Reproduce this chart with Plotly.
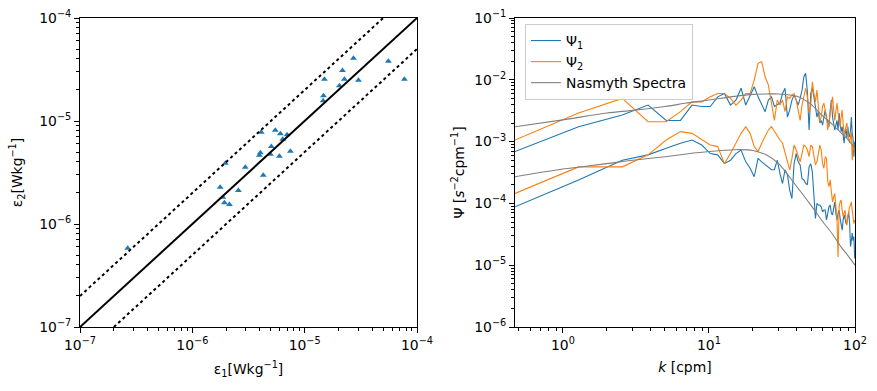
import plotly.graph_objects as go

# ---------------- left panel data ----------------
eps1 = [2.66e-7, 1.77e-6, 1.87e-6, 1.93e-6, 2.14e-6, 1.97e-6, 2.57e-6, 2.96e-6, 4.11e-6, 3.95e-6,
        4.03e-6, 4.28e-6, 4.95e-6, 5.05e-6, 5.48e-6, 6.08e-6, 5.96e-6, 6.38e-6, 6.97e-6, 7.46e-6,
        1.46e-5, 1.47e-5, 1.50e-5, 2.04e-5, 2.17e-5, 2.26e-5, 2.72e-5, 3.01e-5, 5.56e-5, 7.72e-5]
eps2 = [5.8e-7, 2.27e-6, 1.82e-6, 1.61e-6, 1.55e-6, 3.88e-6, 2.12e-6, 3.55e-6, 7.76e-6, 4.65e-6,
        4.92e-6, 2.97e-6, 4.75e-6, 5.64e-6, 8.13e-6, 7.53e-6, 4.54e-6, 6.64e-6, 7.36e-6, 5.08e-6,
        1.57e-5, 1.76e-5, 2.54e-5, 2.20e-5, 3.10e-5, 2.54e-5, 4.07e-5, 2.48e-5, 3.80e-5, 2.54e-5]

one_x = [1e-7, 1e-4]
one_y = [1e-7, 1e-4]
up_x = [1e-7, 5e-5]
up_y = [2e-7, 1e-4]
lo_x = [2e-7, 1e-4]
lo_y = [1e-7, 5e-5]

# ---------------- right panel data ----------------
k = [0.47, 1.28, 2.55, 3.83, 5.10, 6.38, 7.66, 8.93, 10.21, 11.48, 12.76, 14.04, 15.31, 16.59, 17.86,
     19.14, 20.42, 21.69, 22.97, 24.24, 25.52, 26.80, 28.07, 29.35, 30.62, 31.90, 33.18, 34.45,
     35.73, 37.00, 38.28, 39.56, 40.83, 42.11, 43.38, 44.66, 45.94, 47.21, 48.49, 49.76, 51.04,
     52.32, 53.59, 54.87, 56.14, 57.42, 58.70, 59.97, 61.25, 62.52, 63.80, 65.08, 66.35, 67.63,
     68.90, 70.18, 71.46, 72.73, 74.01, 75.28, 76.56, 77.84, 79.11, 80.39, 81.66, 82.94, 84.22,
     85.49, 86.77, 88.04, 89.32, 90.60, 91.87, 93.15, 94.42, 95.70, 96.98, 98.25, 99.53]

psi1_a = [6.9e-4, 1.74e-3, 2.7e-3, 3.9e-3, 2.2e-3, 2.2e-3, 3.9e-3, 3.7e-3, 3.7e-3, 5.3e-3,
          6.0e-3, 3.9e-3, 4.7e-3, 7.3e-3, 3.9e-3, 5.7e-3, 7.7e-3, 5.3e-3, 3.9e-3, 3.05e-3,
          4.7e-3, 5.3e-3, 3.7e-3, 3.9e-3, 4.2e-3, 6.0e-3, 7.3e-3, 2.5e-3, 3.25e-3, 4.7e-3,
          5.7e-3, 4.7e-3, 3.9e-3, 5.0e-3, 6.8e-3, 1.12e-2, 1.27e-2, 6.4e-3, 1.54e-3, 6.0e-3,
          7.3e-3, 5.3e-3, 3.7e-3, 2.5e-3, 3.05e-3, 2.0e-3, 2.2e-3, 1.85e-3, 2.5e-3, 3.25e-3,
          2.4e-3, 2.0e-3, 1.74e-3, 3.25e-3, 4.7e-3, 2.5e-3, 2.0e-3, 1.54e-3, 1.85e-3, 2.2e-3,
          1.54e-3, 2.9e-3, 2.0e-3, 1.45e-3, 1.74e-3, 1.2e-3, 9.4e-4, 1.36e-3, 1.63e-3, 1.13e-3,
          1.74e-3, 1.28e-3, 1.2e-3, 1.54e-3, 2.5e-3, 1.36e-3, 1.13e-3, 5.7e-4, 1.0e-3]
psi2_a = [1.06e-3, 2.9e-3, 5.0e-3, 2.1e-3, 2.1e-3, 3.05e-3, 4.4e-3, 4.4e-3, 5.3e-3, 6.0e-3,
          6.0e-3, 5.0e-3, 3.9e-3, 4.7e-3, 6.0e-3, 6.0e-3, 9.9e-3, 1.85e-2, 1.96e-2, 1.12e-2,
          8.2e-3, 4.4e-3, 2.2e-3, 4.7e-3, 3.9e-3, 4.7e-3, 3.05e-3, 5.3e-3, 5.0e-3, 5.7e-3,
          6.0e-3, 4.7e-3, 3.25e-3, 2.2e-3, 3.9e-3, 5.7e-3, 7.3e-3, 5.3e-3, 2.9e-3, 3.7e-3,
          9.3e-3, 6.0e-3, 4.4e-3, 6.8e-3, 3.25e-3, 2.1e-3, 2.5e-3, 3.7e-3, 4.2e-3, 3.25e-3,
          2.5e-3, 1.54e-3, 2.2e-3, 3.25e-3, 4.4e-3, 5.3e-3, 3.25e-3, 2.2e-3, 3.05e-3, 4.2e-3,
          2.9e-3, 2.0e-3, 1.74e-3, 2.5e-3, 3.25e-3, 2.0e-3, 1.2e-3, 1.54e-3, 1.85e-3, 2.0e-3,
          1.36e-3, 1.06e-3, 9.4e-4, 1.2e-3, 1.45e-3, 5.0e-4, 9.4e-4, 7.3e-4, 8.3e-4]
psi1_b = [8.8e-5, 2.4e-4, 5.0e-4, 6.1e-4, 7.8e-4, 9.4e-4, 1.06e-3, 8.8e-4, 6.4e-4, 6.1e-4,
          4.4e-4, 5.0e-4, 6.4e-4, 7.3e-4, 4.7e-4, 3.7e-4, 2.7e-4, 5.35e-4, 4.7e-4, 4.2e-4,
          3.9e-4, 3.5e-4, 3.5e-4, 5.0e-4, 3.05e-4, 2.1e-4, 3.5e-4, 2.9e-4, 1.64e-4, 1.2e-4,
          4.4e-4, 6.4e-4, 4.7e-4, 4.2e-4, 2.5e-4, 2.4e-4, 2.1e-4, 2.0e-4, 3.9e-4, 4.4e-4,
          3.25e-4, 1.28e-4, 5.7e-5, 1.0e-4, 9.4e-5, 9.4e-5, 8.8e-5, 7.3e-5, 7.8e-5, 7.8e-5,
          5.4e-5, 6.9e-5, 8.8e-5, 9.4e-5, 6.9e-5, 6.5e-5, 8.8e-5, 1.06e-4, 6.9e-5, 5.4e-5,
          6.9e-5, 7.8e-5, 5.7e-5, 4.2e-5, 3.7e-5, 5.4e-5, 6.5e-5, 5.7e-5, 4.7e-5, 5.0e-5,
          6.1e-5, 7.3e-5, 4.7e-5, 2.0e-5, 2.5e-5, 3.3e-5, 2.5e-5, 2.9e-5, 1.28e-5]
psi2_b = [1.45e-4, 3.9e-4, 3.9e-4, 6.1e-4, 1.06e-3, 1.45e-3, 1.36e-3, 1.06e-3, 8.8e-4, 8.3e-4,
          4.4e-4, 6.4e-4, 9.4e-4, 1.36e-3, 1.74e-3, 1.36e-3, 8.3e-4, 6.9e-4, 9.4e-4, 1.2e-3,
          1.54e-3, 1.74e-3, 1.45e-3, 1.2e-3, 1.06e-3, 9.4e-4, 6.9e-4, 4.7e-4, 3.5e-4, 5.35e-4,
          8.8e-4, 7.3e-4, 5.7e-4, 4.7e-4, 6.4e-4, 8.8e-4, 8.3e-4, 7.3e-4, 5.7e-4, 8.8e-4,
          8.3e-4, 5.7e-4, 4.2e-4, 4.7e-4, 6.1e-4, 8.8e-4, 7.3e-4, 4.4e-4, 3.7e-4, 5.7e-4,
          5.35e-4, 2.25e-4, 1.86e-4, 2.4e-4, 1.54e-4, 1.06e-4, 1.28e-4, 1.45e-4, 8.8e-5, 5.7e-5,
          1.36e-5, 8.8e-5, 1.06e-4, 1.13e-4, 7.8e-5, 6.1e-5, 6.9e-5, 7.8e-5, 5.4e-5, 4.4e-5,
          6.1e-5, 8.3e-5, 8.8e-5, 9.4e-5, 1.06e-4, 7.8e-5, 5.7e-5, 4.7e-5, 5.4e-5]

k_nas = [0.47, 1, 2, 3, 5, 7, 10, 15, 20, 25, 30, 40, 50, 60, 70, 80, 90, 100]
nas_a = [1.74e-3, 2.25e-3, 2.9e-3, 3.2e-3, 3.7e-3, 4.2e-3, 4.7e-3, 5.4e-3, 5.8e-3, 5.9e-3,
         5.9e-3, 5.4e-3, 4.0e-3, 2.6e-3, 1.9e-3, 1.4e-3, 1.06e-3, 7.8e-4]
nas_b = [2.7e-4, 3.6e-4, 4.4e-4, 5.0e-4, 5.7e-4, 6.3e-4, 6.9e-4, 7.4e-4, 7.2e-4, 6.0e-4,
         4.4e-4, 1.86e-4, 9.3e-5, 5.1e-5, 3.2e-5, 2.0e-5, 1.4e-5, 1.0e-5]

BLUE = "#1f77b4"
ORANGE = "#ff7f0e"
GRAY = "#808080"
FONT = "DejaVu Sans"
FS = 13.9

fig = go.Figure()

# left panel
fig.add_trace(go.Scatter(x=eps1, y=eps2, mode="markers", xaxis="x", yaxis="y",
                         marker=dict(symbol="triangle-up", size=6, color=BLUE, line=dict(width=0)),
                         showlegend=False))
fig.add_trace(go.Scatter(x=one_x, y=one_y, mode="lines", xaxis="x", yaxis="y",
                         line=dict(color="black", width=2), showlegend=False))
fig.add_trace(go.Scatter(x=up_x, y=up_y, mode="lines", xaxis="x", yaxis="y",
                         line=dict(color="black", width=2, dash="dot"), showlegend=False))
fig.add_trace(go.Scatter(x=lo_x, y=lo_y, mode="lines", xaxis="x", yaxis="y",
                         line=dict(color="black", width=2, dash="dot"), showlegend=False))

# right panel
fig.add_trace(go.Scatter(x=k, y=psi1_a, mode="lines", xaxis="x2", yaxis="y2",
                         line=dict(color=BLUE, width=1.1), name="Ψ<sub>1</sub>", legendrank=1))
fig.add_trace(go.Scatter(x=k, y=psi2_a, mode="lines", xaxis="x2", yaxis="y2",
                         line=dict(color=ORANGE, width=1.1), name="Ψ<sub>2</sub>", legendrank=2))
fig.add_trace(go.Scatter(x=k, y=psi1_b, mode="lines", xaxis="x2", yaxis="y2",
                         line=dict(color=BLUE, width=1.1), showlegend=False))
fig.add_trace(go.Scatter(x=k, y=psi2_b, mode="lines", xaxis="x2", yaxis="y2",
                         line=dict(color=ORANGE, width=1.1), showlegend=False))
fig.add_trace(go.Scatter(x=k_nas, y=nas_a, mode="lines", xaxis="x2", yaxis="y2",
                         line=dict(color=GRAY, width=1.1, shape="spline", smoothing=0.8),
                         name="Nasmyth Spectra", legendrank=3))
fig.add_trace(go.Scatter(x=k_nas, y=nas_b, mode="lines", xaxis="x2", yaxis="y2",
                         line=dict(color=GRAY, width=1.1, shape="spline", smoothing=0.8),
                         showlegend=False))


def sup(e):
    return "10<sup>" + (("\u2212" + str(-e)) if e < 0 else str(e)) + "</sup>"


def minors(lo, hi):
    out = []
    for d in range(lo, hi):
        for m in range(2, 10):
            out.append(m * 10.0 ** d)
    return out


common = dict(type="log", showline=True, linecolor="black", linewidth=1, mirror=True,
              ticks="outside", ticklen=5, tickwidth=1, tickcolor="black", showgrid=False,
              zeroline=False, automargin=False,
              tickfont=dict(family=FONT, size=FS, color="black"))

fig.update_layout(
    width=877, height=391, margin=dict(l=0, r=0, t=0, b=0, autoexpand=False),
    paper_bgcolor="white", plot_bgcolor="white",
    font=dict(family=FONT, size=FS, color="black"),
    xaxis=dict(common, domain=[80 / 877, 417 / 877], anchor="y", range=[-7, -4],
               tickmode="array", tickvals=[1e-7, 1e-6, 1e-5, 1e-4],
               ticktext=[sup(e) for e in range(-7, -3)],
               minor=dict(tickmode="array", tickvals=minors(-7, -4), ticks="outside",
                          ticklen=3, tickwidth=0.8, tickcolor="black", showgrid=False),
               title=dict(text="ε<sub>1</sub>[Wkg<sup>\u22121</sup>]", standoff=12,
                          font=dict(family=FONT, size=FS))),
    yaxis=dict(common, domain=[1 - 327 / 391, 1 - 18 / 391], anchor="x", range=[-7, -4],
               tickmode="array", tickvals=[1e-7, 1e-6, 1e-5, 1e-4],
               ticktext=[sup(e) for e in range(-7, -3)],
               minor=dict(tickmode="array", tickvals=minors(-7, -4), ticks="outside",
                          ticklen=3, tickwidth=0.8, tickcolor="black", showgrid=False),
               title=dict(text="ε<sub>2</sub>[Wkg<sup>\u22121</sup>]", standoff=13,
                          font=dict(family=FONT, size=FS))),
    xaxis2=dict(common, domain=[515 / 877, 855 / 877], anchor="y2", range=[-0.328, 2],
                tickmode="array", tickvals=[1, 10, 100], ticktext=[sup(e) for e in range(0, 3)],
                minor=dict(tickmode="array", tickvals=minors(-1, 2), ticks="outside",
                           ticklen=3, tickwidth=0.8, tickcolor="black", showgrid=False),
                title=dict(text="<i>k</i> [cpm]", standoff=10, font=dict(family=FONT, size=FS))),
    yaxis2=dict(common, domain=[1 - 327 / 391, 1 - 18 / 391], anchor="x2", range=[-6, -1],
                tickmode="array", tickvals=[1e-6, 1e-5, 1e-4, 1e-3, 1e-2, 1e-1],
                ticktext=[sup(e) for e in range(-6, 0)],
                minor=dict(tickmode="array", tickvals=minors(-6, -1), ticks="outside",
                           ticklen=3, tickwidth=0.8, tickcolor="black", showgrid=False),
                title=dict(text="Ψ [<i>s</i><sup>\u22122</sup>cpm<sup>\u22121</sup>]", standoff=6,
                           font=dict(family=FONT, size=FS))),
    legend=dict(x=525 / 877, y=1 - 24 / 391, xanchor="left", yanchor="top",
                bgcolor="rgba(255,255,255,0.8)", bordercolor="#cccccc", borderwidth=1,
                font=dict(family=FONT, size=FS), tracegroupgap=0),
)

fig.write_html("out.html", config={"displayModeBar": False},
               post_script="document.body.style.margin='0';document.body.style.overflow='hidden';")
